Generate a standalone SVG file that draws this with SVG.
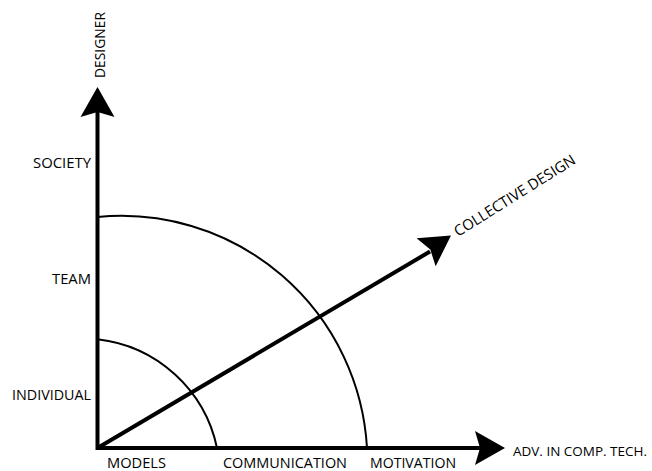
<svg xmlns="http://www.w3.org/2000/svg" xmlns:xlink="http://www.w3.org/1999/xlink" width="652" height="471" viewBox="0 0 652 471">
  <style>
    .lbl { font-family: "Open Sans", "Liberation Sans", sans-serif; font-size: 15px; fill: #000; }
    .axis { fill: none; stroke: #000; stroke-width: 4; }
    .arc { fill: none; stroke: #000; stroke-width: 2; }
    .head { fill: #000; }
  </style>
  <defs>
    <path id="ah" class="head" d="M0,0 L-30,-17 L-25,0 L-30,17 Z"/>
  </defs>
  <rect width="652" height="471" fill="#fff"/>
  <g id="connectors">
    <path id="axes" class="axis" d="M97.5,112 V448 H481" stroke-linejoin="miter"/>
    <use id="head-designer" xlink:href="#ah" transform="translate(97.5,87) rotate(-90)"/>
    <use id="head-adv" xlink:href="#ah" transform="translate(505,448)"/>
    <line id="diag" class="axis" x1="97.5" y1="448" x2="430" y2="251.5"/>
    <use id="head-collective" xlink:href="#ah" transform="translate(451,235.5) rotate(-34)"/>
    <path id="arc-small" class="arc" d="M97.5,339.3 A138,138 0 0 1 217,448"/>
    <path id="arc-large" class="arc" d="M97.5,217 A246,246 0 0 1 367,448"/>
  </g>
  <g id="designer"><text class="lbl" transform="translate(105,78) rotate(-90)" textLength="66" lengthAdjust="spacingAndGlyphs">DESIGNER</text></g>
  <g id="society"><text class="lbl" x="33" y="168" textLength="58" lengthAdjust="spacingAndGlyphs">SOCIETY</text></g>
  <g id="team"><text class="lbl" x="52" y="284" textLength="39" lengthAdjust="spacingAndGlyphs">TEAM</text></g>
  <g id="individual"><text class="lbl" x="12" y="400" textLength="79" lengthAdjust="spacingAndGlyphs">INDIVIDUAL</text></g>
  <g id="models"><text class="lbl" x="107" y="468" textLength="59" lengthAdjust="spacingAndGlyphs">MODELS</text></g>
  <g id="communication"><text class="lbl" x="223" y="468" textLength="124" lengthAdjust="spacingAndGlyphs">COMMUNICATION</text></g>
  <g id="motivation"><text class="lbl" x="370" y="468" textLength="86" lengthAdjust="spacingAndGlyphs">MOTIVATION</text></g>
  <g id="adv"><text class="lbl" x="513" y="456" style="font-size:13.5px" textLength="134" lengthAdjust="spacingAndGlyphs">ADV. IN COMP. TECH.</text></g>
  <g id="collective"><text class="lbl" transform="translate(458,237) rotate(-32)" textLength="140" lengthAdjust="spacingAndGlyphs">COLLECTIVE DESIGN</text></g>
</svg>
